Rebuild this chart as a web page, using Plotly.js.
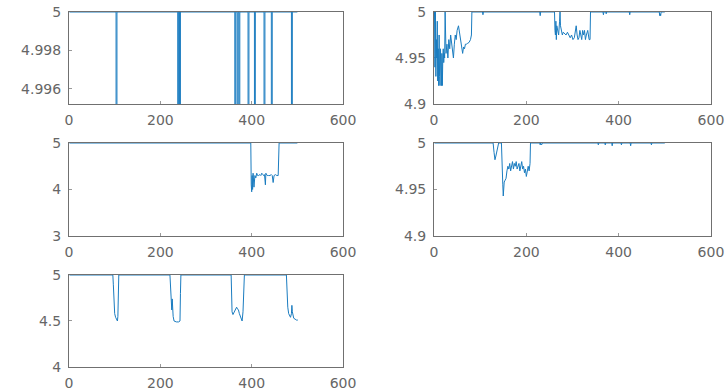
<!DOCTYPE html>
<html>
<head>
<meta charset="utf-8">
<script src="https://cdn.plot.ly/plotly-3.0.1.min.js"></script>
<style>html,body{margin:0;padding:0;background:#fff;}#chart{width:728px;height:392px;}</style>
</head>
<body>
<div id="chart"></div>
<script>
// ---- Data ----
// Panel 1 (top left)
const x1 = [1,103,104,105,238,239,240,242,243,244,363,364,365,368,369,370,372,373,374,392,393,394,406,407,408,427,428,429,443,444,445,487,488,489,500];
const y1 = [5,5,4.9,5,5,4.9,5,5,4.9,5,5,4.9,5,5,4.9,5,5,4.9,5,5,4.9,5,5,4.9,5,5,4.9,5,5,4.9,5,5,4.9,5,5];
// Panel 2 (top right)
const x2 = [1,2,3,4,5,6,7,8,9,10,11,12,13,14,15,16,17,18,19,20,21,22,23,24,25,26,28,30,32,34,36,38,40,42,44,46,48,50,53,56,58,60,62,64,66,68,70,73,76,79,81,82,105,106,107,229,230,231,261,262,263,264,265,266,268,270,272,273,274,276,278,280,283,286,289,292,295,298,301,304,306,308,310,312,314,316,318,320,322,324,326,328,330,333,336,338,339,366,367,368,372,373,374,423,424,425,488,489,490,491,492,500];
const y2 = [5,4.94,5,4.93,4.97,4.95,4.99,4.925,4.96,4.92,4.975,4.93,4.92,4.96,4.94,4.92,4.955,4.92,4.95,4.96,4.945,4.955,4.95,5,4.97,4.955,4.965,4.95,4.97,4.96,4.975,4.965,4.955,4.95,4.965,4.975,4.97,4.98,4.985,4.975,4.97,4.96,4.955,4.962,4.96,4.965,4.965,4.966,4.967,4.97,4.975,5,5,4.997,5,5,4.996,5,5,4.98,4.975,4.99,4.97,4.985,4.98,4.975,4.99,5,4.985,4.98,4.975,4.978,4.976,4.975,4.978,4.974,4.972,4.975,4.97,4.972,4.98,4.985,4.975,4.97,4.972,4.98,4.975,4.97,4.98,4.975,4.98,4.97,4.975,4.98,4.97,4.97,5,5,4.997,5,5,4.998,5,5,4.997,5,5,4.996,4.998,4.996,5,5];
// Panel 3 (middle left)
const x3 = [1,398,399,400,401,402,403,405,407,409,411,413,415,418,420,422,424,426,428,430,431,434,437,440,443,445,447,449,452,455,458,460,500];
const y3 = [5,5,4.1,3.95,4.3,4.0,4.35,4.05,4.3,4.25,4.35,4.3,4.3,4.32,4.3,4.35,4.33,4.3,4.32,4.1,4.35,4.3,4.3,4.3,4.32,4.3,4.15,4.3,4.32,4.3,4.3,5,5];
// Panel 4 (middle right)
const x4 = [1,128,130,132,134,136,138,140,146,147,149,150,152,154,156,158,160,162,164,166,168,170,172,174,176,178,180,182,184,186,188,190,192,194,196,198,200,202,204,206,208,209,229,230,231,233,234,235,355,356,357,370,371,372,385,386,387,405,406,407,425,426,427,470,471,472,500];
const y4 = [5,5,4.99,4.982,4.986,4.992,4.998,5,5,4.99,4.955,4.943,4.958,4.96,4.962,4.97,4.975,4.972,4.978,4.97,4.976,4.98,4.972,4.978,4.975,4.98,4.972,4.975,4.978,4.97,4.976,4.98,4.972,4.975,4.968,4.972,4.964,4.97,4.975,4.97,4.978,5,5,4.998,5,4.998,5,5,5,4.998,5,5,4.998,5,5,4.997,5,5,4.998,5,5,4.997,5,5,4.998,5,5];
// Panel 5 (bottom left)
const x5 = [1,96,97,98,99,100,102,104,106,107,108,109,221,222,223,224,225,226,227,228,230,235,240,243,244,245,355,356,357,359,362,365,367,369,371,373,375,377,379,381,383,384,476,477,479,481,483,485,487,488,489,490,492,495,498,501];
const y5 = [5,5,4.9,4.75,4.63,4.58,4.54,4.51,4.5,4.55,4.8,5,5,4.85,4.72,4.7,4.62,4.74,4.6,4.55,4.5,4.49,4.49,4.5,4.8,5,5,4.8,4.6,4.57,4.6,4.62,4.65,4.63,4.62,4.58,4.55,4.52,4.5,4.6,4.85,5,5,4.85,4.65,4.58,4.55,4.54,4.58,4.67,4.6,4.55,4.53,4.52,4.51,4.51];

// Tick values / labels
const xTicks = [0,200,400,600];
const yTicks1 = [4.996,4.998,5]; const yText1 = ['4.996','4.998','5'];
const yTicks2 = [4.9,4.95,5];    const yText2 = ['4.9','4.95','5'];
const yTicks3 = [3,4,5];          const yText3 = ['3','4','5'];
const yTicks5 = [4,4.5,5];        const yText5 = ['4','4.5','5'];

const lineColor = '#1a7cc0';
const mk = (x, y, n) => ({x: x, y: y, type: 'scatter', mode: 'lines',
  line: {color: lineColor, width: 1}, xaxis: 'x' + (n === 1 ? '' : n), yaxis: 'y' + (n === 1 ? '' : n),
  hoverinfo: 'skip', showlegend: false});

const data = [mk(x1,y1,1), mk(x2,y2,2), mk(x3,y3,3), mk(x4,y4,4), mk(x5,y5,5)];

const font = {family: 'DejaVu Sans, sans-serif', size: 14, color: '#666'};
function xax(dom, anchor) {
  return {domain: dom, anchor: anchor, range: [0, 600], tickvals: xTicks, ticktext: xTicks.map(String),
    showline: true, mirror: true, linecolor: '#707070', linewidth: 1, ticks: 'inside', ticklen: 3,
    tickcolor: '#999', showgrid: false, zeroline: false, tickfont: font, fixedrange: true,
    layer: 'below traces', ticklabelstandoff: 3};
}
function yax(dom, anchor, range, tv, tt) {
  return {domain: dom, anchor: anchor, range: range, tickvals: tv, ticktext: tt,
    showline: true, mirror: true, linecolor: '#707070', linewidth: 1, ticks: 'inside', ticklen: 3,
    tickcolor: '#999', showgrid: false, zeroline: false, tickfont: font, fixedrange: true,
    layer: 'below traces', ticklabelstandoff: 4};
}
const cL = [0.0948, 0.4712], cR = [0.5962, 0.9766];
const r1 = [0.7347, 0.9694], r2 = [0.398, 0.6352], r3 = [0.0638, 0.2985];

const layout = {
  width: 728, height: 392, margin: {l: 0, r: 0, t: 0, b: 0},
  paper_bgcolor: '#fff', plot_bgcolor: '#fff', showlegend: false,
  xaxis: xax(cL, 'y'),  yaxis: yax(r1, 'x', [4.9952, 5], yTicks1, yText1),
  xaxis2: xax(cR, 'y2'), yaxis2: yax(r1, 'x2', [4.9, 5], yTicks2, yText2),
  xaxis3: xax(cL, 'y3'), yaxis3: yax(r2, 'x3', [3, 5], yTicks3, yText3),
  xaxis4: xax(cR, 'y4'), yaxis4: yax(r2, 'x4', [4.9, 5], yTicks2, yText2),
  xaxis5: xax(cL, 'y5'), yaxis5: yax(r3, 'x5', [4, 5], yTicks5, yText5)
};
Plotly.newPlot('chart', data, layout, {staticPlot: true, displayModeBar: false});
</script>
</body>
</html>
